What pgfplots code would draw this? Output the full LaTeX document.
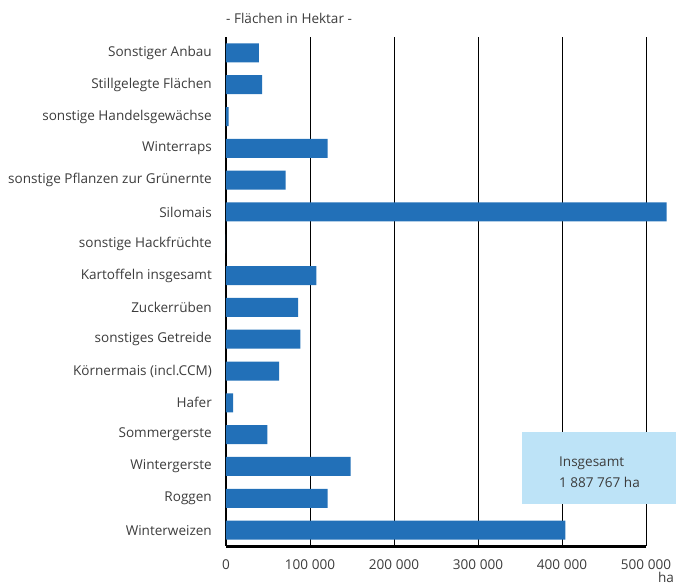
\documentclass[border=0pt]{standalone}
\usepackage{fontspec}
\setmainfont{Open Sans}
\usepackage{pgfplots}
\pgfplotsset{compat=1.18}
\usetikzlibrary{calc}
\definecolor{barblue}{HTML}{2270B8}
\definecolor{boxblue}{HTML}{BDE3F7}
\definecolor{txtgray}{HTML}{3C3C3C}

\begin{document}
\begin{tikzpicture}
\begin{axis}[
  scale only axis,
  width=420bp, height=509bp,
  xmin=0, xmax=500000,
  ymin=-0.5, ymax=15.5,
  y dir=reverse,
  xbar, bar width=19bp, bar shift=0pt,
  ytick={0,...,15},
  yticklabels={Sonstiger Anbau,Stillgelegte Flächen,sonstige Handelsgewächse,Winterraps,
    sonstige Pflanzen zur Grünernte,Silomais,sonstige Hackfrüchte,Kartoffeln insgesamt,
    Zuckerrüben,sonstiges Getreide,Körnermais (incl.CCM),Hafer,Sommergerste,
    Wintergerste,Roggen,Winterweizen},
  xtick={0,100000,200000,300000,400000,500000},
  xticklabels={0,100 000,200 000,300 000,400 000,500 000},
  scaled x ticks=false,
  xmajorgrids,
  grid style={black, line width=0.9bp},
  major tick length=0pt,
  axis x line*=bottom, axis y line*=left,
  x axis line style={line width=3bp,-},
  y axis line style={line width=2bp,-},
  tick label style={font=\fontsize{13.6}{15}\selectfont, text=txtgray, inner sep=0pt},
  yticklabel style={anchor=east, xshift=-14bp},
  xticklabel style={anchor=north, yshift=-13bp},
  clip=false,
]
\addplot[fill=barblue, draw=none] coordinates {
  (39000,0) (43000,1) (3000,2) (121000,3) (70900,4) (524500,5) (0,6) (107500,7)
  (86000,8) (88400,9) (63300,10) (8400,11) (49300,12) (148500,13) (121000,14) (404000,15)
};
\fill[boxblue] (axis cs:352400,11.92) rectangle (axis cs:540000,14.19);
\node[anchor=west, align=left, text=txtgray, font=\fontsize{13.6}{21}\selectfont, inner sep=0pt]
  at (axis cs:396400,13.18) {Insgesamt\\1 887 767 ha};
\node[anchor=west, text=txtgray, font=\fontsize{13.6}{15}\selectfont, inner sep=0pt]
  at (axis cs:0,-1.07) {- Flächen in Hektar -};
\node[text=txtgray, font=\fontsize{13.6}{15}\selectfont, inner sep=0pt]
  at (axis cs:523800,16.5) {ha};
\coordinate (bl) at (axis cs:0,15.5);
\end{axis}
\pgfresetboundingbox
\path ($(bl)+(-226bp,-42bp)$) rectangle ($(bl)+(450bp,546bp)$);
\end{tikzpicture}
\end{document}
